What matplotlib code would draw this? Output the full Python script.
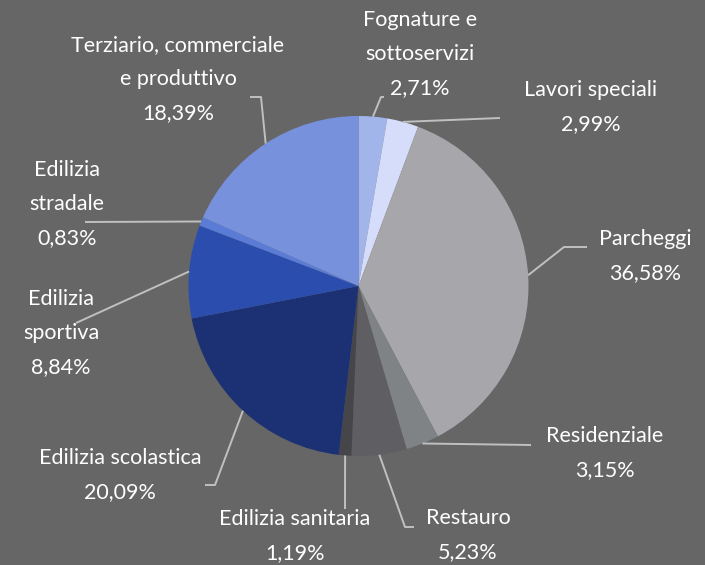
import numpy as np
import matplotlib
matplotlib.use("Agg")
import matplotlib.pyplot as plt

# dati
categorie = ["Fognature e\nsottoservizi", "Lavori speciali", "Parcheggi", "Residenziale",
             "Restauro", "Edilizia sanitaria", "Edilizia scolastica", "Edilizia\nsportiva",
             "Edilizia\nstradale", "Terziario, commerciale\ne produttivo"]
percentuali = [2.71, 2.99, 36.58, 3.15, 5.23, 1.19, 20.09, 8.84, 0.83, 18.39]
colori = ["#a2b5ea", "#d6ddfa", "#a6a6ab", "#7f8386", "#5e5e63",
          "#46464a", "#1c3174", "#2b4eae", "#5a7bd6", "#7891dd"]

# posizione etichette (coordinate immagine) e gomiti delle linee guida
pos_testo = [(420, 54), (591, 107), (645, 256), (605, 453), (468, 535),
             (295, 536), (120, 475), (61, 333), (67, 204), (178, 79)]
gomiti = [[(381, 97), (384, 97)], [(500, 118)], [(564, 247), (587, 247)],
          [(531, 445)], [(405, 527), (414, 527)], [(345, 509)],
          [(215, 485), (205, 485)], [(76, 323)], [(85, 222)],
          [(261, 97), (250, 97)]]

bg = "#666666"
fig = plt.figure(figsize=(7.05, 5.65), dpi=100)
fig.patch.set_facecolor(bg)
ax = fig.add_axes([0, 0, 1, 1])
ax.set_facecolor(bg)

cx, cy, r = 358.5, 286, 170
wedges, _ = ax.pie(percentuali, colors=colori, startangle=-90, counterclock=True,
                   center=(cx, cy), radius=r, wedgeprops=dict(linewidth=0))
ax.set_xlim(0, 705)
ax.set_ylim(565, 0)
ax.axis("off")

for w, cat, p, (tx, ty), g in zip(wedges, categorie, percentuali, pos_testo, gomiti):
    ang = np.deg2rad((w.theta1 + w.theta2) / 2)
    x0, y0 = cx + r * np.cos(ang), cy + r * np.sin(ang)
    xs = [x0] + [q[0] for q in g]
    ys = [y0] + [q[1] for q in g]
    ax.plot(xs, ys, color="#c0c0c0", lw=1.4, solid_capstyle="butt")
    testo = cat + "\n" + f"{p:.2f}%".replace(".", ",")
    ax.text(tx, ty, testo, ha="center", va="center", color="white",
            fontsize=15.5, family="Lato", linespacing=1.9)

fig.savefig("out.png", dpi=100, facecolor=bg)
